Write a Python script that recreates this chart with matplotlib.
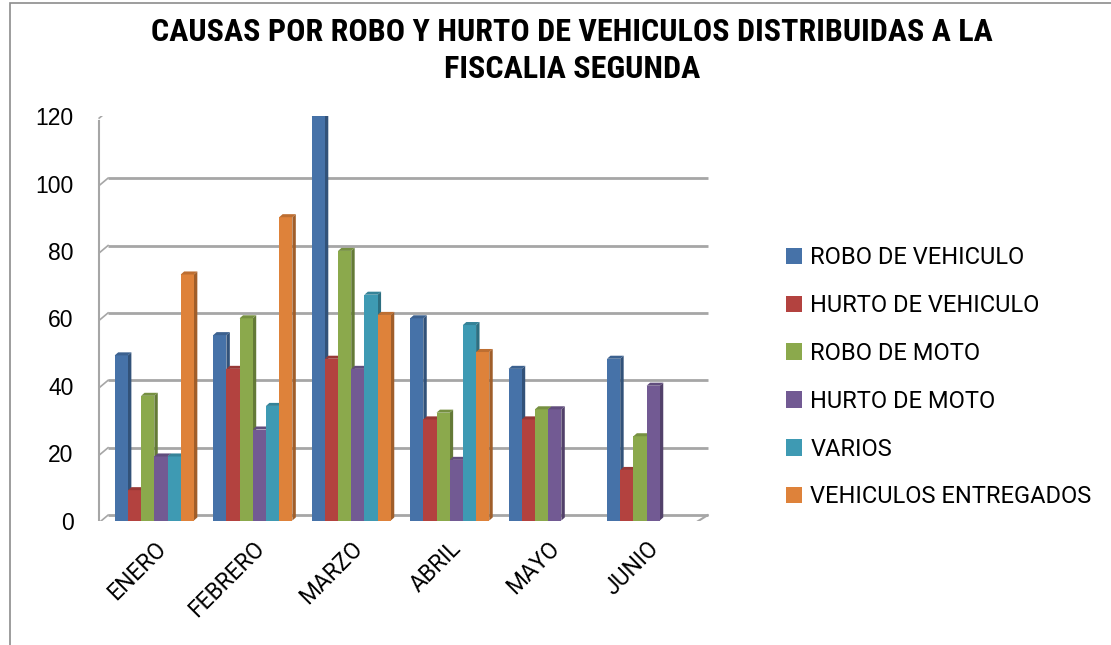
import matplotlib
matplotlib.use('Agg')
import matplotlib.pyplot as plt
import matplotlib.font_manager as fm
from matplotlib.patches import Polygon, Rectangle
from matplotlib.colors import to_rgb
import numpy as np

# --- datos ---
meses = ['ENERO', 'FEBRERO', 'MARZO', 'ABRIL', 'MAYO', 'JUNIO']
series = ['ROBO DE VEHICULO', 'HURTO DE VEHICULO', 'ROBO DE MOTO',
          'HURTO DE MOTO', 'VARIOS', 'VEHICULOS ENTREGADOS']
robo_vehiculo = [49, 55, 120, 60, 45, 48]
hurto_vehiculo = [9, 45, 48, 30, 30, 15]
robo_moto = [37, 60, 80, 32, 33, 25]
hurto_moto = [19, 27, 45, 18, 33, 40]
varios = [19, 34, 67, 58, 0, 0]
entregados = [73, 90, 61, 50, 0, 0]
y_ticks = [0, 20, 40, 60, 80, 100, 120]

colores = ['#4672A8', '#B3423F', '#8BA94C', '#725A93', '#3E9AB3', '#DE823A']

available = {f.name for f in fm.fontManager.ttflist}


def pick(cands, default='DejaVu Sans'):
    for c in cands:
        if c in available:
            return c
    return default


# titulo estrecho (tipo Arial Narrow), resto normal
f_narrow = pick(['Roboto Condensed', 'Liberation Sans Narrow', 'Archivo Narrow',
                 'PT Sans Narrow'], 'Liberation Sans')
f_text = pick(['Roboto', 'Liberation Sans'])
f_nums = pick(['Liberation Sans', 'Arimo'])
plt.rcParams['font.family'] = [f_text, 'DejaVu Sans']


def darker(c, f):
    r, g, b = to_rgb(c)
    return (r * f, g * f, b * f)


fig = plt.figure(figsize=(11.11, 6.45), dpi=100)
fig.patch.set_facecolor('white')
ax = fig.add_axes([0.0875, 0.193, 0.553, 0.627])

valores = [robo_vehiculo, hurto_vehiculo, robo_moto, hurto_moto, varios, entregados]
x = np.arange(len(meses))
w = 0.134
dx, dy = 0.035, 0.9  # profundidad falsa 3D

# paredes / rejilla
for t in y_ticks:
    ax.plot([-0.47, 5.62], [t + 1.6, t + 1.6], color='#A6A6A6', lw=2, zorder=1,
            solid_capstyle='butt')
    ax.plot([-0.56, -0.47], [t - 0.6, t + 1.6], color='#A6A6A6', lw=1.2, zorder=1)
ax.plot([-0.56, -0.56], [-0.6, 118.6], color='#A6A6A6', lw=1.5, zorder=1)
ax.plot([-0.56, 5.5, 5.62], [-0.6, -0.6, 1.6], color='#A6A6A6', lw=1.5, zorder=1)

for i, (nombre, vals, c) in enumerate(zip(series, valores, colores)):
    pos = x + (i - 2.5) * w
    ax.bar(pos, vals, width=w, color=c, label=nombre, zorder=3, linewidth=0)
    for p, v in zip(pos, vals):
        if v <= 0:
            continue
        r = p + w / 2
        l = p - w / 2
        ax.add_patch(Polygon([[r, 0], [r + dx, dy], [r + dx, v + dy], [r, v]],
                             closed=True, color=darker(c, 0.72), lw=0, zorder=2))
        ax.add_patch(Polygon([[l, v], [l + dx, v + dy], [r + dx, v + dy], [r, v]],
                             closed=True, color=darker(c, 0.85), lw=0, zorder=3))

ax.set_xlim(-0.58, 5.66)
ax.set_ylim(0, 120)
ax.set_yticks(y_ticks)
ax.set_yticklabels([str(t) for t in y_ticks], family=f_nums, fontsize=16.5)
ax.set_xticks(x)
ax.set_xticklabels(meses, rotation=45, ha='right', rotation_mode='anchor',
                   fontsize=16.5)
ax.tick_params(axis='y', length=0, pad=17)
ax.tick_params(axis='x', length=0, pad=12)
for s in ax.spines.values():
    s.set_visible(False)

fig.suptitle('CAUSAS POR ROBO Y HURTO DE VEHICULOS DISTRIBUIDAS A LA\nFISCALIA SEGUNDA',
             x=0.515, y=0.974, fontsize=23, fontweight='bold', linespacing=1.3,
             family=f_narrow)

fig.legend(loc='center left', bbox_to_anchor=(0.688, 0.415), frameon=False,
           fontsize=17, handlelength=0.7, handleheight=0.7, handletextpad=0.35,
           labelspacing=1.05)

# marco del grafico
fig.patches.append(Rectangle((0.009, -0.01), 1.2, 1.006, transform=fig.transFigure,
                             fill=False, edgecolor='#8C8C8C', lw=1.2))

fig.savefig('out.png', dpi=100, facecolor='white')
